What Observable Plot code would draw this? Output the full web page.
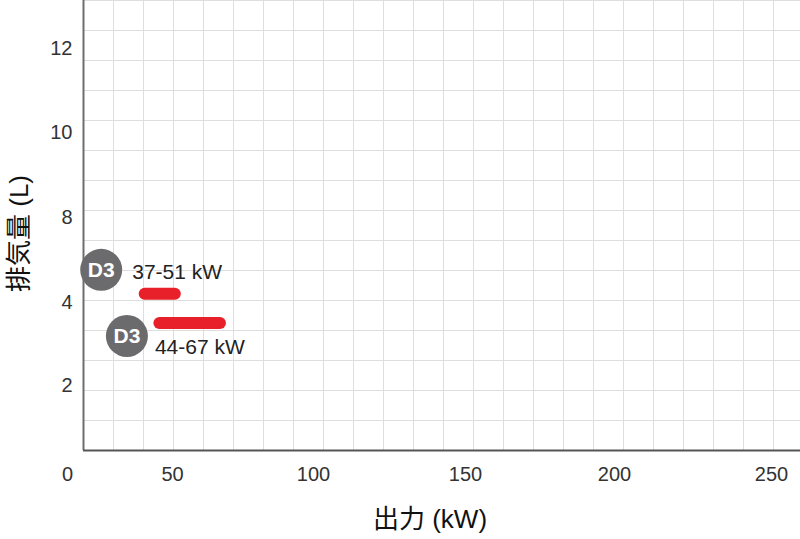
<!DOCTYPE html>
<html>
<head>
<meta charset="utf-8">
<script src="https://cdn.jsdelivr.net/npm/d3@7"></script>
<script src="https://cdn.jsdelivr.net/npm/@observablehq/plot@0.6"></script>
<style>
  body { margin: 0; background: #fff; }
  #chart { position: relative; width: 800px; height: 539px; overflow: hidden; }
  #chart svg { position: absolute; left: 0; top: 0; }
</style>
</head>
<body>
<div id="chart"></div>
<script>
// ---- data ----
const engines = ["D3", "D3"];
const powerMin = [37, 44];          // kW
const powerMax = [51, 67];          // kW
const displacement = [4.4, 3.5];    // L
const rangeLabels = ["37-51 kW", "44-67 kW"];
const xTicks = [0, 50, 100, 150, 200, 250];
const yTicks = [2, 4, 8, 10, 12];
const gridColumns = 24;  // number of grid cells across
const gridRows = 15;     // number of grid cells down

const rows = engines.map((e, i) => ({
  engine: e, min: powerMin[i], max: powerMax[i], disp: displacement[i], label: rangeLabels[i]
}));
const upper = rows.filter((d, i) => i === 0);
const lower = rows.filter((d, i) => i === 1);

// The reference axes are not evenly spaced: piecewise-linear warps anchored on the tick labels.
const xWarp = d3.scaleLinear().domain(xTicks).range([67, 172, 313, 465, 614, 771]);
const yWarp = d3.scaleLinear().domain(yTicks).range([385, 301.7, 217.5, 132, 47.8]);

const FONT = "'Liberation Sans', 'Noto Sans CJK JP', sans-serif";
const chart = document.getElementById("chart");

// ---- background grid layer ----
const grid = Plot.plot({
  width: 800, height: 539,
  marginTop: 0, marginRight: 0, marginBottom: 0, marginLeft: 0,
  style: { background: "none" },
  x: { domain: [0, gridColumns], range: [83, 83 + 30 * gridColumns], axis: null },
  y: { domain: [0, gridRows], range: [450, 0], axis: null },
  marks: [
    Plot.ruleX(d3.range(1, gridColumns + 1), { y1: 0, y2: gridRows, stroke: "#dedede", strokeWidth: 1 }),
    Plot.ruleY(d3.range(1, gridRows + 1), { x1: 0, x2: gridColumns, stroke: "#dedede", strokeWidth: 1 }),
    Plot.ruleX([0], { y1: 0, y2: gridRows, stroke: "#6e6e6e", strokeWidth: 2 }),
    Plot.ruleY([0], { x1: 0, x2: gridColumns, stroke: "#555", strokeWidth: 2 })
  ]
});
chart.appendChild(grid);

// ---- main layer ----
const main = Plot.plot({
  width: 800, height: 539,
  marginTop: 0, marginRight: 0, marginBottom: 89, marginLeft: 83,
  style: { background: "none", fontFamily: FONT, fontSize: "20px", color: "#333" },
  x: { type: "linear", transform: xWarp, domain: [0, 800], range: [0, 800], axis: null },
  y: { type: "linear", transform: yWarp, domain: [0, 800], range: [0, 800], axis: null },
  marks: [
    // tick labels
    Plot.text(xTicks, { x: d => d, text: d => String(d), frameAnchor: "bottom", lineAnchor: "top", dy: 16, fontSize: 20, fill: "#333" }),
    Plot.text(yTicks, { y: d => d, text: d => String(d), frameAnchor: "left", textAnchor: "end", lineAnchor: "middle", dx: -11, fontSize: 20, fill: "#333" }),
    // axis titles
    Plot.text(["出力 (kW)"], { frameAnchor: "bottom", textAnchor: "middle", lineAnchor: "middle", dx: -12, dy: 69, fontSize: 26, fill: "#111" }),
    Plot.text(["排気量 (L)"], { frameAnchor: "left", textAnchor: "middle", lineAnchor: "middle", rotate: -90, dx: -64, dy: 8, fontSize: 26, fill: "#111" }),
    // power ranges
    Plot.ruleY(rows, { y: "disp", x1: "min", x2: "max", stroke: "#e8202a", strokeWidth: 12, strokeLinecap: "round" }),
    // upper row: label above, badge upper-left
    Plot.text(upper, { x: "min", y: "disp", text: "label", textAnchor: "start", dx: -13, dy: -22, fontSize: 21, fill: "#222" }),
    Plot.dot(upper, { x: "min", y: "disp", r: 21, fill: "#6b6b6d", dx: -44, dy: -24 }),
    Plot.text(upper, { x: "min", y: "disp", text: "engine", dx: -44, dy: -24, fontSize: 21, fontWeight: "bold", fill: "#fff" }),
    // lower row: label below, badge lower-left
    Plot.text(lower, { x: "min", y: "disp", text: "label", textAnchor: "start", dx: -5, dy: 24, fontSize: 21, fill: "#222" }),
    Plot.dot(lower, { x: "min", y: "disp", r: 21, fill: "#6b6b6d", dx: -33, dy: 13 }),
    Plot.text(lower, { x: "min", y: "disp", text: "engine", dx: -33, dy: 13, fontSize: 21, fontWeight: "bold", fill: "#fff" })
  ]
});
chart.appendChild(main);
</script>
</body>
</html>
